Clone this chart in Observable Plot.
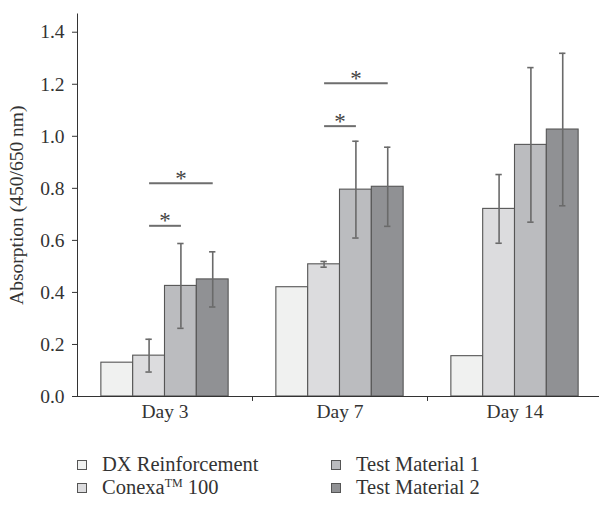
<!DOCTYPE html>
<html><head><meta charset="utf-8">
<script src="https://cdn.jsdelivr.net/npm/d3@7"></script>
<script src="https://cdn.jsdelivr.net/npm/@observablehq/plot@0.6"></script>
<style>
body{margin:0;background:#fff;font-family:"Liberation Serif","DejaVu Serif",serif;color:#333;overflow:hidden}
#chart svg{display:block;overflow:hidden}
#legend{position:relative;height:78px;width:599px}
.item{position:absolute;display:flex;align-items:center;font-size:20.5px;line-height:21px;white-space:nowrap;color:#333}
.sw{width:8px;height:8px;border:1px solid #555;margin-right:15px;flex:none}
.item sup{font-size:12px;line-height:1;vertical-align:7px}
</style></head><body>
<div id="chart"></div>
<div id="legend"></div>
<script>
const days = ["Day 3", "Day 7", "Day 14"];
const series = ["DX Reinforcement", "Conexa™ 100", "Test Material 1", "Test Material 2"];
const colors = ["#f0f1f0", "#dcdcde", "#bbbcbf", "#909194"];

const dxValues = [0.13, 0.42, 0.155];
const dxErrors = [null, null, null];
const conexaValues = [0.157, 0.508, 0.721];
const conexaErrors = [0.063, 0.011, 0.132];
const tm1Values = [0.425, 0.795, 0.967];
const tm1Errors = [0.163, 0.186, 0.297];
const tm2Values = [0.45, 0.806, 1.026];
const tm2Errors = [0.106, 0.152, 0.293];

const yTicks = [0, 0.2, 0.4, 0.6, 0.8, 1.0, 1.2, 1.4];
const yLabel = "Absorption (450/650 nm)";

const sigDays = ["Day 3", "Day 3", "Day 7", "Day 7"];
const sigFrom = ["Conexa™ 100", "Conexa™ 100", "Conexa™ 100", "Conexa™ 100"];
const sigTo = ["Test Material 1", "Test Material 2", "Test Material 1", "Test Material 2"];
const sigLevels = [0.656, 0.82, 1.039, 1.204];

const valueSets = [dxValues, conexaValues, tm1Values, tm2Values];
const errorSets = [dxErrors, conexaErrors, tm1Errors, tm2Errors];

const rows = [];
days.forEach((day, di) => series.forEach((s, si) => {
  rows.push({day, series: s, value: valueSets[si][di], err: errorSets[si][di]});
}));
const errRows = rows.filter(d => d.err != null);
const sig = sigDays.map((day, i) => ({day, from: sigFrom[i], to: sigTo[i], y: sigLevels[i]}));
const boundaries = days.slice(0, -1).map(day => ({day}));

const idx = s => series.indexOf(s);
const xDomain = [-1.25, series.length - 1 + 1.25];
const capHalf = 0.1;
const tickLen = 0.019;

const chart = Plot.plot({
  width: 599,
  height: 430,
  marginLeft: 77,
  marginRight: -3,
  marginTop: 13.5,
  marginBottom: 34,
  style: {fontFamily: '"Liberation Serif","DejaVu Serif",serif', fontSize: "19.5px", color: "#333", background: "#fff", overflow: "hidden"},
  fx: {domain: days, padding: 0, label: null, tickSize: 0, tickPadding: 8, axis: "bottom"},
  x: {domain: xDomain, axis: null},
  y: {domain: [0, 1.47], ticks: yTicks, tickFormat: d3.format(".1f"), tickSize: 5, tickPadding: 8, line: true,
      label: yLabel, labelAnchor: "center", labelArrow: false, labelOffset: 68},
  color: {domain: series, range: colors},
  marks: [
    Plot.rectY(rows, {fx: "day", x1: d => idx(d.series) - 0.5, x2: d => idx(d.series) + 0.5, y1: 0, y2: "value",
      fill: "series", stroke: "#555", strokeWidth: 1.1}),
    Plot.ruleX(errRows, {fx: "day", x: d => idx(d.series), y1: d => d.value - d.err, y2: d => d.value + d.err,
      stroke: "#6a6a6a", strokeWidth: 1.6}),
    Plot.ruleY(errRows, {fx: "day", y: d => d.value + d.err, x1: d => idx(d.series) - capHalf, x2: d => idx(d.series) + capHalf,
      stroke: "#6a6a6a", strokeWidth: 1.6}),
    Plot.ruleY(errRows, {fx: "day", y: d => d.value - d.err, x1: d => idx(d.series) - capHalf, x2: d => idx(d.series) + capHalf,
      stroke: "#6a6a6a", strokeWidth: 1.6}),
    Plot.link(sig, {fx: "day", x1: d => idx(d.from), x2: d => idx(d.to), y1: "y", y2: "y", stroke: "#6e6e6e", strokeWidth: 2}),
    Plot.text(sig, {fx: "day", x: d => (idx(d.from) + idx(d.to)) / 2, y: "y", text: () => "*", dy: -5, fontSize: 23, fill: "#444"}),
    Plot.ruleY([0], {stroke: "#333", strokeWidth: 1.2}),
    Plot.ruleX(boundaries, {fx: "day", x: () => xDomain[1], y1: 0, y2: -tickLen, stroke: "#333", strokeWidth: 1})
  ]
});
document.getElementById("chart").appendChild(chart);

// legend (column-major, 2 rows)
const legend = document.getElementById("legend");
const lefts = [77, 331];
const tops = [24, 47];
series.forEach((s, i) => {
  const item = document.createElement("div");
  item.className = "item";
  item.style.left = lefts[Math.floor(i / 2)] + "px";
  item.style.top = tops[i % 2] + "px";
  const sw = document.createElement("span");
  sw.className = "sw";
  sw.style.background = colors[i];
  const label = document.createElement("span");
  label.innerHTML = s.replace("™", "<sup>TM</sup>");
  item.appendChild(sw);
  item.appendChild(label);
  legend.appendChild(item);
});
</script>
</body></html>
